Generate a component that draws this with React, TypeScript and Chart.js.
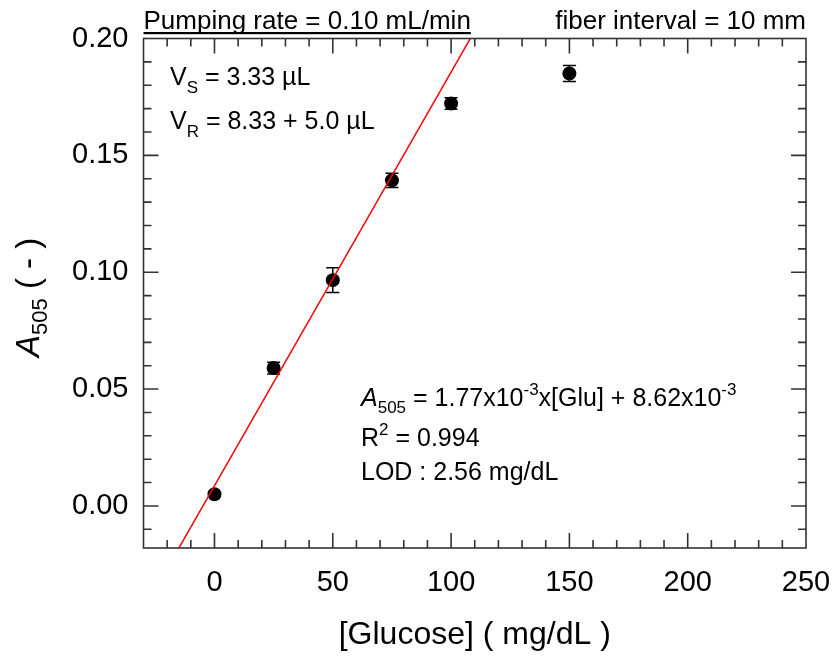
import React, { useEffect, useRef } from 'react';
import { Chart, registerables } from 'chart.js';

Chart.register(...registerables);

// ---- data ----
const glucose = [0, 25, 50, 75, 100, 150];
const absorbance = [0.005, 0.059, 0.0966, 0.1393, 0.1722, 0.185];
const absorbanceErr = [0.001, 0.0025, 0.0053, 0.003, 0.0025, 0.0034];
const fitSlope = 1.77e-3;
const fitIntercept = 8.62e-3;
const fitRange = [-30, 250];

// ---- axes ----
const xMin = -30;
const xMax = 250;
const xMajorStep = 50;
const xMinorStep = 10;
const yMin = -0.018;
const yMax = 0.2;
const yMajorStep = 0.05;
const yMinorStep = 0.01;

const FONT = '"Liberation Sans", Arial, Helvetica, sans-serif';

type Run = { t: string; size: number; italic?: boolean; dy?: number };

function drawRuns(ctx: CanvasRenderingContext2D, x: number, y: number, runs: Run[]) {
  let cx = x;
  ctx.textAlign = 'left';
  ctx.textBaseline = 'alphabetic';
  for (const r of runs) {
    ctx.font = `${r.italic ? 'italic ' : ''}${r.size}px ${FONT}`;
    ctx.fillText(r.t, cx, y + (r.dy || 0));
    cx += ctx.measureText(r.t).width;
  }
  return cx;
}

function minorValues(min: number, max: number, step: number, major: number) {
  const out: number[] = [];
  const start = Math.ceil(min / step - 1e-9);
  const end = Math.floor(max / step + 1e-9);
  for (let i = start; i <= end; i++) {
    const v = i * step;
    const r = v / major;
    if (Math.abs(r - Math.round(r)) < 1e-6) continue;
    out.push(v);
  }
  return out;
}

function majorValues(min: number, max: number, step: number) {
  const out: number[] = [];
  const start = Math.ceil(min / step - 1e-9);
  const end = Math.floor(max / step + 1e-9);
  for (let i = start; i <= end; i++) out.push(i * step);
  return out;
}

const annotatePlugin = {
  id: 'annotate',
  beforeDatasetsDraw(chart: any) {
    const { ctx, scales } = chart;
    const x = scales.x;
    const y = scales.y;
    ctx.save();
    ctx.strokeStyle = '#000';
    ctx.lineWidth = 1.5;
    glucose.forEach((g, i) => {
      const px = x.getPixelForValue(g);
      const top = y.getPixelForValue(absorbance[i] + absorbanceErr[i]);
      const bot = y.getPixelForValue(absorbance[i] - absorbanceErr[i]);
      ctx.beginPath();
      ctx.moveTo(px, top);
      ctx.lineTo(px, bot);
      ctx.moveTo(px - 6.5, top);
      ctx.lineTo(px + 6.5, top);
      ctx.moveTo(px - 6.5, bot);
      ctx.lineTo(px + 6.5, bot);
      ctx.stroke();
    });
    ctx.restore();
  },
  afterDraw(chart: any) {
    const { ctx, chartArea: a, scales } = chart;
    const x = scales.x;
    const y = scales.y;
    ctx.save();
    // frame
    ctx.strokeStyle = '#333';
    ctx.lineWidth = 1.6;
    ctx.strokeRect(a.left, a.top, a.right - a.left, a.bottom - a.top);
    // inward ticks on all four sides
    const majLen = 15;
    const minLen = 8;
    ctx.beginPath();
    const xMaj = majorValues(xMin, xMax, xMajorStep);
    const yMaj = majorValues(yMin, yMax, yMajorStep);
    const xMin2 = minorValues(xMin, xMax, xMinorStep, xMajorStep);
    const yMin2 = minorValues(yMin, yMax, yMinorStep, yMajorStep);
    const vTick = (v: number, len: number) => {
      const px = x.getPixelForValue(v);
      if (px <= a.left + 0.5 || px >= a.right - 0.5) return;
      ctx.moveTo(px, a.bottom);
      ctx.lineTo(px, a.bottom - len);
      ctx.moveTo(px, a.top);
      ctx.lineTo(px, a.top + len);
    };
    const hTick = (v: number, len: number) => {
      const py = y.getPixelForValue(v);
      if (py <= a.top + 0.5 || py >= a.bottom - 0.5) return;
      ctx.moveTo(a.left, py);
      ctx.lineTo(a.left + len, py);
      ctx.moveTo(a.right, py);
      ctx.lineTo(a.right - len, py);
    };
    xMaj.forEach((v: number) => vTick(v, majLen));
    xMin2.forEach((v: number) => vTick(v, minLen));
    yMaj.forEach((v: number) => hTick(v, majLen));
    yMin2.forEach((v: number) => hTick(v, minLen));
    ctx.stroke();

    ctx.fillStyle = '#000';
    // header texts
    const endX = drawRuns(ctx, a.left, 29, [{ t: 'Pumping rate = 0.10 mL/min', size: 26 }]);
    ctx.fillRect(a.left, 32, endX - a.left, 2.2);
    ctx.font = `26px ${FONT}`;
    ctx.textAlign = 'right';
    ctx.fillText('fiber interval = 10 mm', a.right, 29);

    // volumes
    drawRuns(ctx, 170, 85, [
      { t: 'V', size: 25 },
      { t: 'S', size: 17, dy: 8 },
      { t: ' = 3.33 \u00B5L', size: 25 },
    ]);
    drawRuns(ctx, 170, 129, [
      { t: 'V', size: 25 },
      { t: 'R', size: 17, dy: 8 },
      { t: ' = 8.33 + 5.0 \u00B5L', size: 25 },
    ]);

    // equation block
    drawRuns(ctx, 361, 406, [
      { t: 'A', size: 25, italic: true },
      { t: '505', size: 17, dy: 7 },
      { t: ' = 1.77x10', size: 25 },
      { t: '-3', size: 17, dy: -11 },
      { t: 'x[Glu] + 8.62x10', size: 25 },
      { t: '-3', size: 17, dy: -11 },
    ]);
    drawRuns(ctx, 361, 446, [
      { t: 'R', size: 25 },
      { t: '2', size: 17, dy: -11 },
      { t: ' = 0.994', size: 25 },
    ]);
    drawRuns(ctx, 361, 480, [{ t: 'LOD : 2.56 mg/dL', size: 25 }]);

    // y axis title (rotated)
    ctx.translate(39, 357);
    ctx.rotate(-Math.PI / 2);
    drawRuns(ctx, 0, 0, [
      { t: 'A', size: 33, italic: true },
      { t: '505', size: 22, dy: 8 },
      { t: ' ( - )', size: 33 },
    ]);
    ctx.restore();
  },
};

export default function App() {
  const ref = useRef<HTMLCanvasElement | null>(null);

  useEffect(() => {
    if (!ref.current) return;
    const fitData = fitRange.map((g) => ({ x: g, y: fitSlope * g + fitIntercept }));
    const points = glucose.map((g, i) => ({ x: g, y: absorbance[i] }));
    const chart = new Chart(ref.current, {
      type: 'scatter',
      data: {
        datasets: [
          {
            type: 'line',
            label: 'fit',
            data: fitData,
            borderColor: '#ff0000',
            borderWidth: 1.5,
            pointRadius: 0,
            fill: false,
          } as any,
          {
            type: 'scatter',
            label: 'A505',
            data: points,
            pointRadius: 7,
            pointBackgroundColor: '#000',
            pointBorderColor: '#000',
            pointBorderWidth: 0,
          },
        ],
      },
      options: {
        animation: false,
        responsive: false,
        maintainAspectRatio: false,
        devicePixelRatio: 1,
        layout: { padding: { top: 38.5, right: 29, left: 0, bottom: 0 } },
        plugins: { legend: { display: false }, tooltip: { enabled: false } },
        scales: {
          x: {
            type: 'linear',
            min: xMin,
            max: xMax,
            grid: { display: false, drawTicks: false },
            border: { display: false },
            ticks: {
              stepSize: xMajorStep,
              includeBounds: false,
              padding: 18,
              color: '#000',
              font: { size: 29, family: FONT },
              maxRotation: 0,
              autoSkip: false,
              callback: (v: any) => String(Math.round(Number(v))),
            },
            afterBuildTicks: (s: any) => {
              s.ticks = s.ticks.filter((t: any) => t.value >= -1e-6 && t.value <= xMax + 1e-6);
            },
            afterFit: (s: any) => {
              s.height = 111;
              s.paddingLeft = 0;
              s.paddingRight = 0;
            },
            title: {
              display: true,
              text: '[Glucose] ( mg/dL )',
              color: '#000',
              font: { size: 32, family: FONT },
              padding: { top: 0, bottom: 5 },
            },
          },
          y: {
            type: 'linear',
            min: yMin,
            max: yMax,
            grid: { display: false, drawTicks: false },
            border: { display: false },
            ticks: {
              stepSize: yMajorStep,
              includeBounds: false,
              padding: 15,
              color: '#000',
              font: { size: 29, family: FONT },
              autoSkip: false,
              callback: (v: any) => Number(v).toFixed(2),
            },
            afterBuildTicks: (s: any) => {
              s.ticks = s.ticks.filter((t: any) => t.value >= -1e-6);
            },
            afterFit: (s: any) => {
              s.width = 143.5;
              s.paddingTop = 0;
              s.paddingBottom = 0;
            },
          },
        },
      },
      plugins: [annotatePlugin],
    });
    return () => chart.destroy();
  }, []);

  return (
    <div style={{ position: 'fixed', left: 0, top: 0, width: 835, height: 659, background: '#fff' }}>
      <canvas ref={ref} width={835} height={659} style={{ display: 'block' }} />
    </div>
  );
}
